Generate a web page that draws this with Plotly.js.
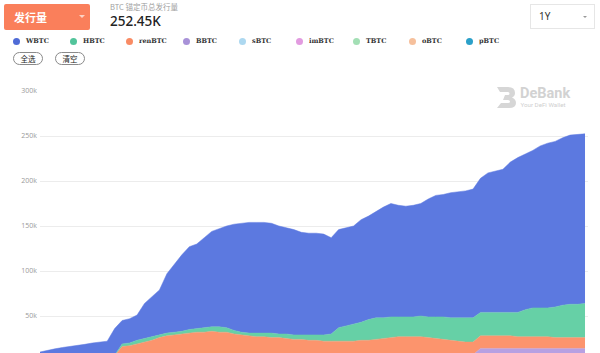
<!DOCTYPE html>
<html>
<head>
<meta charset="utf-8">
<script src="https://cdn.plot.ly/plotly-3.0.1.min.js"></script>
<style>
html,body{margin:0;padding:0;width:600px;height:353px;overflow:hidden;background:#fff;font-family:"Noto Sans CJK SC","Noto Sans",sans-serif;}
#chart{position:absolute;left:0;top:0;width:600px;height:400px;z-index:1;}
.abs{position:absolute;z-index:2;}
#btn{left:4px;top:4px;width:86px;height:26px;background:#fa7f5b;border-radius:2px;color:#fff;font-weight:bold;font-size:11px;line-height:26px;}
#btn span{position:absolute;left:10px;}
#btn i{position:absolute;left:75px;top:11px;width:0;height:0;border-left:3px solid transparent;border-right:3px solid transparent;border-top:3px solid #fcd3c4;}
#sub{left:110px;top:2px;font-size:7.5px;line-height:9px;height:9px;color:#a0a0a0;}
#big{left:110px;top:14px;font-size:13.5px;line-height:14px;height:14px;color:#222;font-family:"Noto Sans",sans-serif;font-weight:500;}
#yr{left:530px;top:4px;width:65px;height:25px;border:1px solid #e6e6e6;box-sizing:border-box;font-size:10px;color:#333;line-height:23px;}
#yr span{position:absolute;left:8px;font-family:"Noto Sans",sans-serif;}
#yr i{position:absolute;left:52px;top:11px;width:0;height:0;border-left:2.5px solid transparent;border-right:2.5px solid transparent;border-top:2.5px solid #999;}
.lg{position:absolute;top:36px;height:10px;z-index:2;}
.lg b{position:absolute;left:0;top:1.5px;width:7px;height:7px;border-radius:50%;}
.lg span{position:absolute;left:13px;top:-0.5px;font-family:"DejaVu Serif",serif;font-weight:bold;font-size:6.5px;color:#333;white-space:nowrap;line-height:10px;}
.pill{top:52px;height:13px;border:1px solid #8a8a8a;box-sizing:border-box;border-radius:7px;font-size:7.5px;line-height:11px;text-align:center;color:#222;}
#wm{left:496px;top:85px;width:95px;height:25px;}
</style>
</head>
<body>
<div id="chart"></div>
<div id="btn" class="abs"><span>发行量</span><i></i></div>
<div id="sub" class="abs">BTC 锚定币总发行量</div>
<div id="big" class="abs">252.45K</div>
<div id="yr" class="abs"><span>1Y</span><i></i></div>
<div id="legend"></div>
<div class="abs pill" style="left:13px;width:30px;">全选</div>
<div class="abs pill" style="left:55px;width:30px;">清空</div>
<div id="wm" class="abs">
<svg width="95" height="25" viewBox="0 0 95 25">
<path d="M1 2 H12 Q19 2 19 8 Q19 11 16 12.5 Q20 14 20 18 Q20 23 13 23 H1 L5 18 H12 Q14 18 14 16.5 Q14 15 12 15 H7 L9 10 H12 Q13.5 10 13.5 8.5 Q13.5 7 12 7 H4 Z" fill="#d6d6d6"/>
<text x="24" y="13" font-family="Roboto, 'Noto Sans', sans-serif" font-weight="bold" font-size="14.5" fill="#d2d2d2">DeBank</text>
<text x="24.5" y="22" font-family="Roboto, 'Noto Sans', sans-serif" font-size="6.2" fill="#cfcfcf">Your DeFi Wallet</text>
</svg>
</div>
<script>
// values in thousands of BTC, one point every 5 days over one year
const startDate = '2020-06-01';
const pointCount = 74;
const seriesNames = ['WBTC','HBTC','renBTC','BBTC','sBTC','imBTC','TBTC','oBTC','pBTC'];
const fillColors = ['#5c79e0','#66d0a6','#fc946d','#b7a0e2','#b3dcf3','#e5a2e4','#a6e0bb','#f8c6a2','#35a6cf'];
const dotColors  = ['#4f6bd6','#52c49b','#f98b64','#a892d8','#add8f0','#e29be0','#a3dfb5','#f6c09c','#2ba0c9'];

const WBTC = [3.5,5.5,7,8.5,9.5,11,12,13.5,14.5,15.5,29.5,
  26,27,28,39,45,50,66,76,85,92,94,100,106,109,113,118,121,123,123,123,122,120,118,117,114,113,113,112,107,
  109,109,109,114,115,118,123,126,124,123,124,125,131,135,136,139,140,141,143,
  149,155,157,159,167,172,173,175,180,183,184,186,188,188.5,188.45];
const HBTC = [0.5,0.5,0.5,0.5,0.5,0.5,0.5,0.5,0.5,0.5,0.5,
  3,3,4,4,4,3,3,3,3,4,4,5,5,6,5,4,3,3,4,4,5,4,5,5,5,6,6,7,8,
  15,17,19,20,23,24,23,23,22,22,22,23,23,24,25,25,26,27,27,
  26,26,26,26,26,27,30,32,32,32,34,36,37,37,38];
const renBTC = [4,4,4,4,4,4,4,4,4,4,4,
  9,10,12,14,16,19,21,22,23,24,25,25,26,25,25,23,22,21,20,20,19,19,18,17,17,16,16,15,15,
  15,15,15,16,16,17,18,19,20,20,20,20,19,18,17,16,15,14,14,
  14,14,14,14,14,13,13,13,13,13,12,12,12,12,12];
const BBTC = [0,0,0,0,0,0,0,0,0,0,0,
  5,5,5,5,5,5,5,5,5,5,5,5,5,5,5,5,5,5,5,5,5,5,5,5,5,5,5,5,5,
  5,5,5,5,5,5,5,5,5,5,5,5,5,5,5,5,5,5,5,
  12,12,12,12,12,12,12,12,12,12,12,12,12,12,12];
const sBTC  = Array(pointCount).fill(0.9);
const imBTC = Array(pointCount).fill(0.4);
const TBTC  = Array(pointCount).fill(0.4);
const oBTC  = Array(pointCount).fill(0.2);
const pBTC  = Array(pointCount).fill(0.1);
const yTickVals = [50,100,150,200,250,300];
const yTickText = ['50k','100k','150k','200k','250k','300k'];

const dates = [];
{
  const d0 = new Date(startDate + 'T00:00:00Z');
  for (let i = 0; i < pointCount; i++) {
    const d = new Date(d0.getTime() + i * 5 * 86400000);
    dates.push(d.toISOString().slice(0,10));
  }
}
const seriesData = {WBTC, HBTC, renBTC, BBTC, sBTC, imBTC, TBTC, oBTC, pBTC};

// legend (HTML)
const legendX = [13,70,126,183,239,296,353,409,466];
const lg = document.getElementById('legend');
seriesNames.forEach((n,i)=>{
  const el = document.createElement('div');
  el.className = 'lg';
  el.style.left = legendX[i] + 'px';
  el.innerHTML = '<b style="background:'+dotColors[i]+'"></b><span>'+n+'</span>';
  lg.appendChild(el);
});

// stacked areas: bottom of stack is last in legend
const traces = [];
for (let i = seriesNames.length - 1; i >= 0; i--) {
  const n = seriesNames[i];
  traces.push({
    x: dates, y: seriesData[n], name: n, type: 'scatter', mode: 'lines',
    stackgroup: 'one', line: {width: 0.5, color: fillColors[i], shape: 'linear'},
    fillcolor: fillColors[i], hoverinfo: 'skip'
  });
}
const endX = new Date(new Date(dates[dates.length-1]+'T00:00:00Z').getTime() + 2*86400000).toISOString().slice(0,10);
const layout = {
  width: 600, height: 400,
  margin: {l: 40, r: 12, t: 91, b: 39},
  paper_bgcolor: 'rgba(0,0,0,0)', plot_bgcolor: 'rgba(0,0,0,0)',
  showlegend: false, hovermode: false,
  xaxis: {type: 'date', range: [dates[0], endX], showgrid: false, showticklabels: false, zeroline: false, showline: false, ticks: ''},
  yaxis: {range: [0, 300], tickvals: yTickVals, ticktext: yTickText, showgrid: true, gridcolor: '#ececec', gridwidth: 1,
    zeroline: false, showline: false, ticks: '', ticklabelstandoff: 2,
    tickfont: {family: '"Open Sans", sans-serif', size: 7, color: '#9a9a9a'}},
  font: {family: '"Open Sans", sans-serif'}
};
Plotly.newPlot('chart', traces, layout, {staticPlot: true, displayModeBar: false});
</script>
</body>
</html>
